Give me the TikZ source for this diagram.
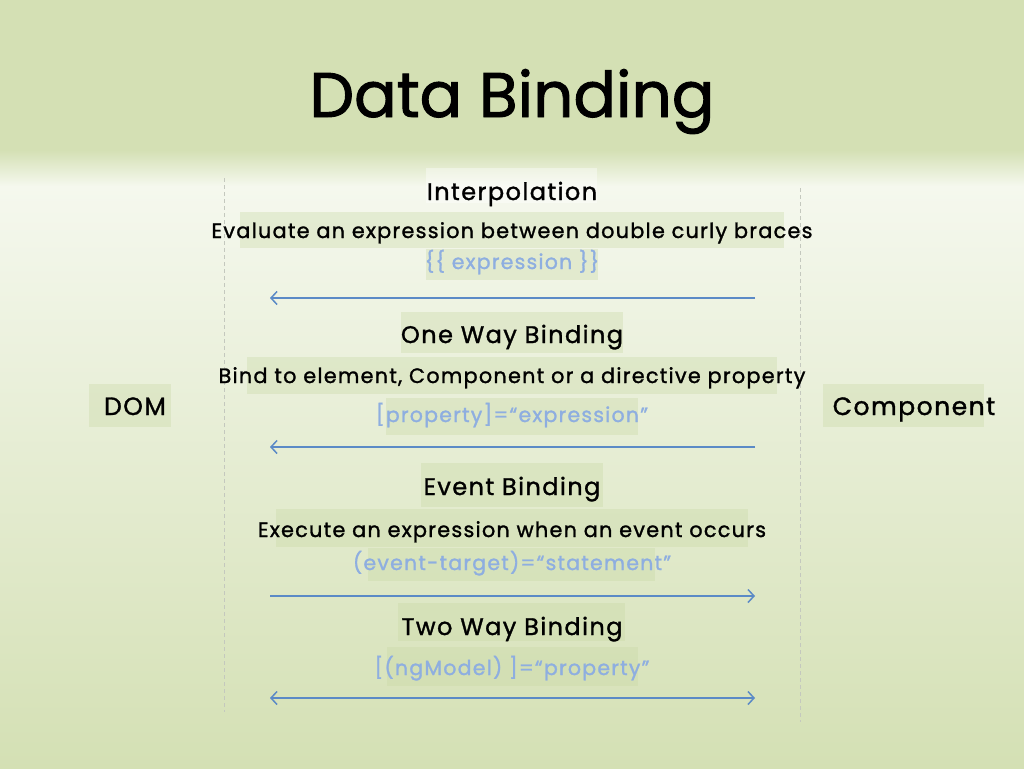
\documentclass[tikz,border=0pt]{standalone}
\usepackage{fontspec}
\setmainfont{Poppins}[LetterSpace=6, FakeBold=1.3]
\newfontfamily\titlefamily{Poppins}[FakeBold=1.5]
\usepackage{tikz}
\usetikzlibrary{arrows.meta}

\definecolor{bandgreen}{RGB}{212,224,180}
\definecolor{paleback}{RGB}{245,248,238}
\definecolor{hlgreen}{RGB}{200,216,164}
\definecolor{flowblue}{RGB}{91,138,198}
\definecolor{codeblue}{RGB}{142,174,224}
\definecolor{laneline}{RGB}{196,200,190}

\begin{document}
\begin{tikzpicture}[x=1pt,y=-1pt,
    titletext/.style={font=\titlefamily\fontsize{63}{63}\selectfont, anchor=base},
    bindhead/.style={font=\fontsize{24}{24}\selectfont, anchor=base},
    binddesc/.style={font=\fontsize{20.8}{20.8}\selectfont, anchor=base},
    bindcode/.style={font=\fontsize{20.5}{20.5}\selectfont, text=codeblue, anchor=base},
    sidelabel/.style={font=\fontsize{25}{25}\selectfont, anchor=base},
    hlbox/.style={fill=hlgreen, opacity=0.35},
    flow/.style={draw=flowblue, line width=1.5pt, {Straight Barb[length=6pt,width=13pt]}-{Straight Barb[length=6pt,width=13pt]}},
    lane/.style={draw=laneline, line width=0.8pt, dash pattern=on 4pt off 3pt}]
    \useasboundingbox (0,0) rectangle (1024,768);
    % background
    \fill[bandgreen] (0,0) rectangle (1024,150);
    \shade[top color=bandgreen, bottom color=paleback] (0,150) rectangle (1024,186);
    \shade[top color=paleback, bottom color=bandgreen] (0,186) rectangle (1024,768);
    % highlights behind the texts
    \fill[white, opacity=0.4] (426,168) rectangle (597,203);
    \fill[hlbox] (240,212) rectangle (784,248);
    \fill[hlbox] (426,249) rectangle (598,280);
    \fill[hlbox] (401,312) rectangle (623,353);
    \fill[hlbox] (247,357) rectangle (777,394);
    \fill[hlbox] (386,398) rectangle (638,435);
    \fill[hlbox] (421,463) rectangle (603,507);
    \fill[hlbox] (276,509) rectangle (748,547);
    \fill[hlbox] (368,548) rectangle (655,581);
    \fill[hlbox] (398,603) rectangle (625,641);
    \fill[hlbox] (387,647) rectangle (638,686);
    \fill[hlbox] (89,384) rectangle (171,427);
    \fill[hlbox] (823,384) rectangle (984,427);
    % lanes
    \draw[lane] (224,178) -- (224,712);
    \draw[lane] (800,188) -- (800,722);

    \node[titletext] (title) at (512,117) {Data Binding};
    \node[sidelabel] (dom) at (135,415) {DOM};
    \node[sidelabel] (comp) at (914,415) {Component};

    \node[bindhead] (interp) at (512,200) {Interpolation};
    \node[binddesc] (interpdesc) at (512,238) {Evaluate an expression between double curly braces};
    \node[bindcode] (interpcode) at (512,269) {\{\{ expression \}\}};
    \node[bindhead] (oneway) at (512,343) {One Way Binding};
    \node[binddesc] (onewaydesc) at (512,383) {Bind to element, Component or a directive property};
    \node[bindcode] (onewaycode) at (512,422) {[property]=“expression”};
    \node[bindhead] (event) at (512,495) {Event Binding};
    \node[binddesc] (eventdesc) at (512,537) {Execute an expression when an event occurs};
    \node[bindcode] (eventcode) at (512,570) {(event-target)=“statement”};
    \node[bindhead] (twoway) at (512,635) {Two Way Binding};
    \node[bindcode] (twowaycode) at (512,675) {[(ngModel) ]=“property”};

    % arrow ends
    \coordinate (a1l) at (270,298); \coordinate (a1r) at (755,298);
    \coordinate (a2l) at (270,447); \coordinate (a2r) at (755,447);
    \coordinate (a3l) at (270,596); \coordinate (a3r) at (755,596);
    \coordinate (a4l) at (270,698); \coordinate (a4r) at (755,698);
    \draw[flow, -{Straight Barb[length=6pt,width=13pt]}] (a1r) -- (a1l);
    \draw[flow, -{Straight Barb[length=6pt,width=13pt]}] (a2r) -- (a2l);
    \draw[flow, -{Straight Barb[length=6pt,width=13pt]}] (a3l) -- (a3r);
    \draw[flow] (a4l) -- (a4r);
\end{tikzpicture}
\end{document}
